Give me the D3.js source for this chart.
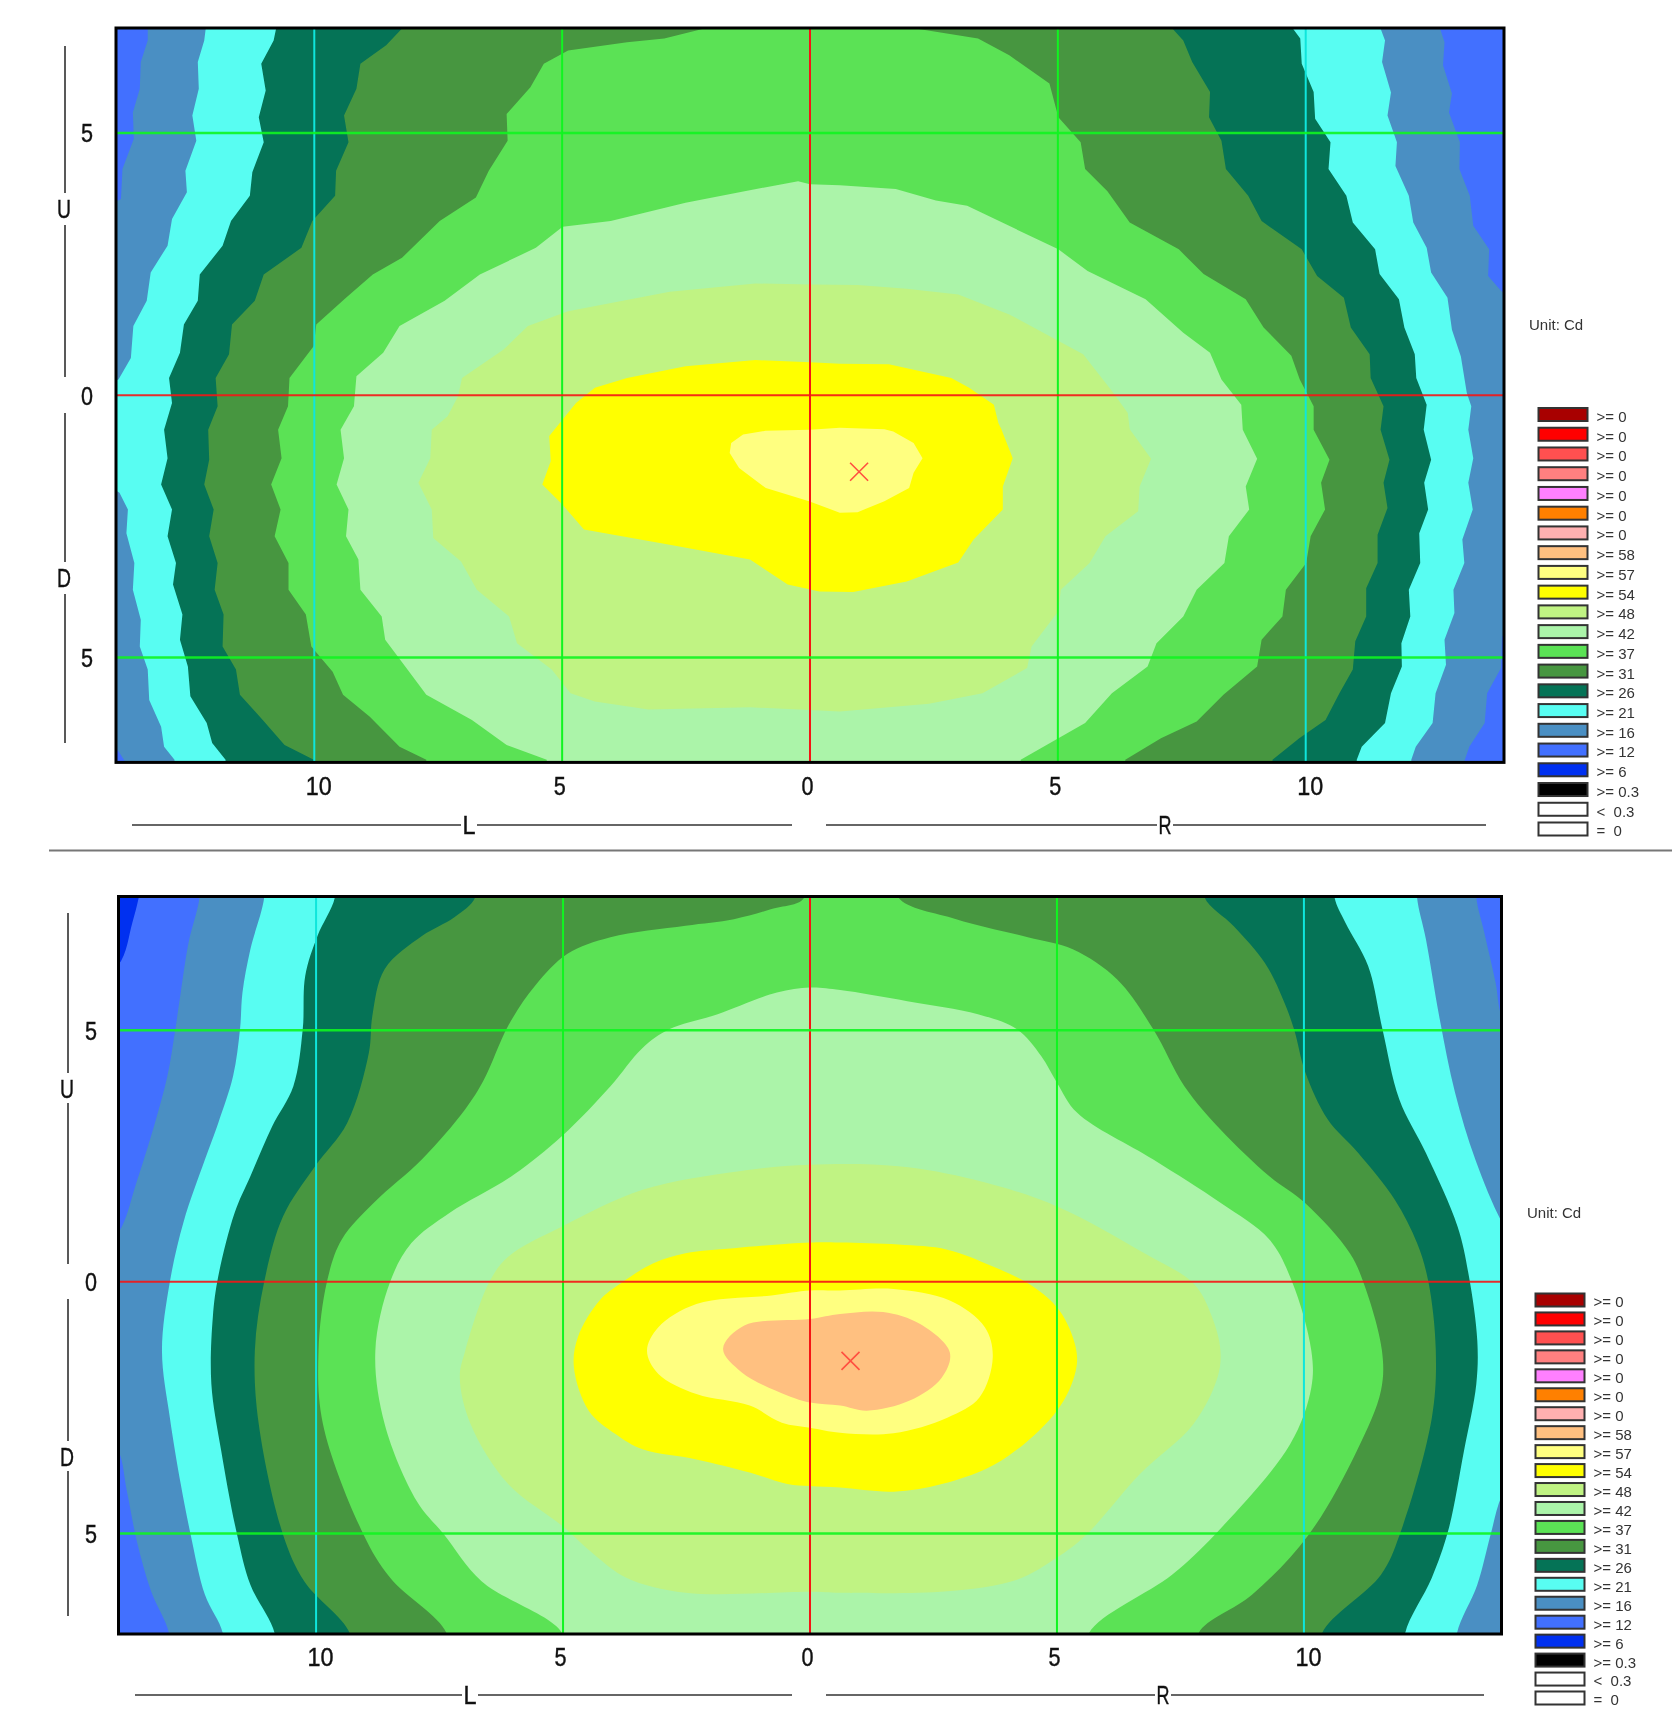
<!DOCTYPE html>
<html>
<head>
<meta charset="utf-8">
<script src="https://cdn.jsdelivr.net/npm/d3@7"></script>
<style>
  body { margin: 0; background: #fff; }
  svg { display: block; }
  .big { font-family: "Liberation Sans", Arial, sans-serif; font-size: 25px; fill: #111; stroke: #111; stroke-width: 0.4px; filter: blur(0.3px); }
  .small { font-family: "Liberation Sans", Arial, sans-serif; font-size: 15px; fill: #333; white-space: pre; filter: blur(0.3px); }
</style>
</head>
<body>
<svg width="1678" height="1714"></svg>
<script>
// Legend rows, top to bottom
const legendLabels = [">= 0", ">= 0", ">= 0", ">= 0", ">= 0", ">= 0", ">= 0", ">= 58", ">= 57", ">= 54", ">= 48",
  ">= 42", ">= 37", ">= 31", ">= 26", ">= 21", ">= 16", ">= 12", ">= 6", ">= 0.3", "<  0.3", "=  0"];
const legendColors = ["#a80000", "#ff0000", "#ff5050", "#ff8080", "#ff80ff", "#ff8000", "#ffb0b0", "#ffc080", "#ffff80", "#ffff00", "#c0f383",
  "#abf4a9", "#5be255", "#479640", "#057356", "#58fdf2", "#4a8fc3", "#4270ff", "#0030f0", "#000000", "#ffffff", "#ffffff"];
const levelColors = { 6: "#0030f0", 12: "#4270ff", 16: "#4a8fc3", 21: "#58fdf2", 26: "#057356", 31: "#479640", 37: "#5be255", 42: "#abf4a9", 48: "#c0f383", 54: "#ffff00", 57: "#ffff80", 58: "#ffc080" };

const xTicks = [-10, -5, 0, 5, 10];
const yTicks = [5, 0, -5];

// Top chart isolines, [degrees L/R, degrees U/D]
const top16Left = [[-13.36,6.99],[-13.36,6.76],[-13.5,6.35],[-13.52,5.84],[-13.66,5.39],[-13.64,4.89],[-13.87,4.31],[-13.9,3.74],[-14.2,3.6],[-14.2,-6.7],[-13.97,-6.76],[-13.82,-6.98]];
const top16Right = [[12.71,6.99],[12.8,6.73],[12.77,6.29],[12.95,5.75],[12.89,5.39],[13.11,4.82],[13.1,4.31],[13.31,3.8],[13.38,3.23],[13.7,2.78],[13.68,2.27],[13.94,1.99],[14.2,1.8],[14.2,-4.5],[13.96,-4.6],[13.94,-5.2],[13.66,-5.68],[13.61,-6.25],[13.3,-6.7],[13.2,-6.98]];
const top21Left = [[-12.19,6.99],[-12.22,6.76],[-12.35,6.35],[-12.33,5.84],[-12.46,5.33],[-12.38,4.85],[-12.6,4.28],[-12.57,3.87],[-12.87,3.36],[-12.96,2.85],[-13.3,2.34],[-13.38,1.8],[-13.65,1.32],[-13.7,0.71],[-13.95,0.3],[-14.2,0.2],[-14.2,-1.7],[-13.93,-1.86],[-13.76,-2.18],[-13.79,-2.63],[-13.63,-3.2],[-13.66,-3.71],[-13.5,-4.28],[-13.52,-4.79],[-13.36,-5.23],[-13.33,-5.81],[-13.09,-6.32],[-13.03,-6.7],[-12.82,-6.95]];
const top21Right = [[11.51,6.99],[11.6,6.76],[11.54,6.35],[11.72,5.77],[11.65,5.33],[11.84,4.82],[11.81,4.37],[12.08,3.8],[12.17,3.29],[12.44,2.81],[12.53,2.34],[12.86,1.86],[12.95,1.25],[13.13,0.74],[13.25,0.04],[13.34,-0.21],[13.28,-0.66],[13.38,-1.2],[13.28,-1.67],[13.37,-2.18],[13.16,-2.75],[13.2,-3.2],[12.98,-3.71],[13,-4.15],[12.8,-4.66],[12.83,-5.14],[12.62,-5.68],[12.56,-6.25],[12.22,-6.7],[12.13,-6.95]];
const top26Left = [[-10.77,6.99],[-10.82,6.76],[-11.07,6.32],[-10.98,5.81],[-11.12,5.3],[-11.02,4.82],[-11.25,4.25],[-11.3,3.8],[-11.68,3.32],[-11.85,2.85],[-12.31,2.3],[-12.35,1.8],[-12.63,1.35],[-12.71,0.81],[-12.93,0.33],[-12.87,-0.15],[-13.03,-0.66],[-12.96,-1.2],[-13.09,-1.7],[-12.87,-2.18],[-12.96,-2.69],[-12.79,-3.2],[-12.85,-3.61],[-12.66,-4.18],[-12.71,-4.66],[-12.55,-5.17],[-12.5,-5.74],[-12.17,-6.25],[-12.06,-6.63],[-11.79,-6.95]];
const top26Right = [[9.74,6.99],[9.89,6.8],[9.92,6.32],[10.16,5.78],[10.19,5.27],[10.5,4.82],[10.46,4.31],[10.82,3.8],[10.95,3.29],[11.4,2.78],[11.49,2.31],[11.88,1.83],[11.99,1.29],[12.2,0.78],[12.23,0.33],[12.44,-0.18],[12.38,-0.66],[12.53,-1.23],[12.39,-1.67],[12.47,-2.18],[12.29,-2.63],[12.31,-3.2],[12.08,-3.71],[12.11,-4.22],[11.93,-4.73],[11.94,-5.17],[11.72,-5.68],[11.6,-6.25],[11.13,-6.7],[11.03,-6.95]];
const top31Left = [[-8.23,6.99],[-8.55,6.67],[-9.07,6.32],[-9.15,5.84],[-9.4,5.33],[-9.31,4.82],[-9.56,4.28],[-9.58,3.8],[-10.04,3.32],[-10.26,2.81],[-11.02,2.3],[-11.2,1.8],[-11.66,1.35],[-11.72,0.78],[-11.99,0.33],[-11.95,-0.21],[-12.14,-0.66],[-12.12,-1.23],[-12.22,-1.7],[-12.03,-2.18],[-12.12,-2.69],[-11.95,-3.2],[-12.01,-3.71],[-11.83,-4.18],[-11.85,-4.79],[-11.58,-5.23],[-11.5,-5.71],[-11.04,-6.19],[-10.6,-6.67],[-10.01,-6.95]];
const top31Right = [[7.31,6.99],[7.53,6.76],[7.71,6.35],[8.07,5.78],[8.05,5.3],[8.3,4.85],[8.39,4.31],[8.84,3.8],[9.11,3.32],[9.92,2.78],[10.23,2.27],[10.77,1.86],[10.91,1.29],[11.29,0.78],[11.31,0.33],[11.57,-0.21],[11.51,-0.66],[11.69,-1.23],[11.57,-1.67],[11.65,-2.15],[11.45,-2.66],[11.45,-3.2],[11.22,-3.68],[11.22,-4.22],[11,-4.69],[10.95,-5.23],[10.68,-5.68],[10.4,-6.19],[9.87,-6.54],[9.33,-6.95]];
const top37Left = [[-2.13,6.99],[-2.94,6.8],[-3.69,6.73],[-4.88,6.57],[-5.37,6.32],[-5.64,5.87],[-6.12,5.36],[-6.1,4.85],[-6.48,4.28],[-6.74,3.77],[-7.47,3.32],[-8.23,2.62],[-8.82,2.3],[-9.36,1.86],[-9.96,1.35],[-10.01,0.94],[-10.5,0.33],[-10.53,-0.21],[-10.73,-0.66],[-10.66,-1.2],[-10.87,-1.7],[-10.68,-2.18],[-10.8,-2.69],[-10.52,-3.2],[-10.52,-3.71],[-10.17,-4.18],[-10.06,-4.79],[-9.63,-5.27],[-9.42,-5.71],[-8.88,-6.13],[-8.28,-6.7],[-7.74,-6.95]];
const top37Right = [[2.13,6.99],[3.39,6.8],[4.02,6.48],[4.83,5.94],[5.01,5.3],[5.46,4.82],[5.55,4.31],[6,3.89],[6.45,3.29],[7.44,2.78],[7.94,2.31],[8.79,1.83],[9.15,1.29],[9.71,0.75],[9.88,0.3],[10.16,-0.21],[10.16,-0.66],[10.48,-1.23],[10.31,-1.67],[10.39,-2.18],[10.1,-2.69],[10.01,-3.2],[9.6,-3.71],[9.53,-4.22],[9.11,-4.66],[9.02,-5.17],[8.34,-5.71],[7.8,-6.22],[7.08,-6.54],[6.36,-6.95]];
const top42Left = [[0,4.02],[-0.24,4.08],[-1.32,3.89],[-2.51,3.67],[-4.02,3.32],[-4.99,3.21],[-5.53,2.81],[-6.66,2.3],[-7.37,1.8],[-8.28,1.32],[-8.61,0.81],[-9.15,0.36],[-9.2,-0.21],[-9.47,-0.66],[-9.4,-1.2],[-9.55,-1.7],[-9.31,-2.18],[-9.36,-2.69],[-9.11,-3.13],[-9.07,-3.71],[-8.64,-4.22],[-8.57,-4.66],[-8.12,-5.23],[-7.74,-5.71],[-6.82,-6.19],[-6.12,-6.67],[-5.31,-6.95]];
const top42Right = [[0.6,4],[1.73,3.93],[2.54,3.71],[3.17,3.61],[5.01,2.78],[5.6,2.37],[6.77,1.83],[7.53,1.19],[8.07,0.81],[8.3,0.3],[8.7,-0.18],[8.73,-0.66],[9.02,-1.21],[8.79,-1.74],[8.86,-2.18],[8.45,-2.69],[8.36,-3.2],[7.8,-3.71],[7.53,-4.22],[6.99,-4.73],[6.81,-5.17],[6.09,-5.68],[5.55,-6.25],[4.25,-6.95]];
const top48 = [[0,2.11],[-1.1,2.13],[-2.83,1.97],[-4.88,1.6],[-5.69,1.32],[-6.18,0.87],[-7.02,0.33],[-7.1,-0.02],[-7.31,-0.4],[-7.63,-0.66],[-7.66,-1.2],[-7.9,-1.67],[-7.63,-2.18],[-7.6,-2.72],[-7.04,-3.17],[-6.72,-3.71],[-6.07,-4.22],[-5.91,-4.73],[-5.21,-5.23],[-4.83,-5.68],[-4.34,-5.84],[-3.26,-5.99],[-1.21,-5.95],[0,-6],[0.6,-6.03],[2.4,-5.88],[3.48,-5.68],[4.38,-5.2],[4.47,-4.79],[5.01,-4.12],[5.06,-3.71],[5.64,-3.2],[5.96,-2.69],[6.62,-2.21],[6.65,-1.74],[6.88,-1.21],[6.45,-0.65],[6.41,-0.34],[6.09,0.08],[5.51,0.78],[4.02,1.54],[2.99,1.92],[1.95,2.03],[0.96,2.1]];
const top54 = [[0,0.63],[-1.1,0.67],[-2.51,0.55],[-3.69,0.33],[-4.34,0.14],[-4.72,-0.15],[-5.1,-0.59],[-5.26,-0.78],[-5.23,-1.26],[-5.4,-1.7],[-4.99,-2.09],[-4.56,-2.56],[-2.83,-2.85],[-1.21,-3.13],[-0.45,-3.61],[0.19,-3.74],[0.87,-3.75],[1.95,-3.55],[2.99,-3.19],[3.3,-2.75],[3.89,-2.18],[3.89,-1.74],[4.09,-1.2],[3.86,-0.65],[3.8,-0.53],[3.71,-0.18],[3.21,0.14],[2.85,0.33],[1.59,0.59],[0.6,0.6]];
const top57 = [[-1.59,-0.91],[-1.62,-1.1],[-1.43,-1.39],[-0.89,-1.77],[-0.02,-2.02],[0.6,-2.24],[0.96,-2.23],[1.5,-2.02],[2,-1.77],[2.09,-1.48],[2.27,-1.2],[2.09,-0.91],[1.68,-0.69],[1.5,-0.65],[0.6,-0.62],[0,-0.66],[-0.9,-0.68],[-1.35,-0.75]];
const topPeak = [0.99, -1.46];

// Bottom chart isolines
const bottom12 = [[-13.59,7.64],[-13.4,8.6],[15,8.6],[15,-8],[-15,-8],[-15,5.8],[-14.02,6.28],[-13.72,7.14]];
const bottom16Left = [[-12.36,7.64],[-12.58,6.75],[-12.74,5.75],[-12.85,5.02],[-13.01,4.09],[-13.28,3.1],[-13.66,1.9],[-13.93,1.1],[-14.4,0.4],[-14.4,-3],[-14.02,-3.33],[-13.83,-4.16],[-13.63,-5.15],[-13.34,-6.15],[-12.98,-6.98]];
const bottom16Right = [[13.49,7.64],[13.65,6.95],[13.88,5.95],[14,5.29],[14.4,4.6],[14.8,-8]];
const bottom21Left = [[-11.05,7.64],[-11.33,6.61],[-11.49,5.75],[-11.54,5.02],[-11.68,4.09],[-11.98,3.16],[-12.25,2.43],[-12.68,1.2],[-12.96,0],[-13.12,-1.37],[-12.96,-2.7],[-12.74,-4.02],[-12.54,-5.02],[-12.25,-6.22],[-11.89,-6.98]];
const bottom21Right = [[12.29,7.64],[12.47,6.81],[12.75,5.22],[13.06,3.76],[13.47,2.43],[14,1.2],[14.4,0.6],[14.4,-3.6],[14,-4.26],[13.78,-5.02],[13.51,-6.02],[13.1,-6.98]];
const bottom26Left = [[-9.62,7.64],[-9.97,6.88],[-10.22,6.08],[-10.27,5.02],[-10.46,3.89],[-10.89,3.09],[-11.33,2.1],[-11.65,1.37],[-11.98,0.11],[-12.09,-0.7],[-12.12,-2.03],[-11.92,-3.36],[-11.6,-5.02],[-11.33,-6.02],[-10.84,-6.98]];
const bottom26Right = [[10.62,7.64],[10.84,7.14],[11.3,6.28],[11.59,5.02],[11.93,3.63],[12.47,2.56],[13.11,1.1],[13.34,0.11],[13.51,-1.17],[13.49,-2.03],[13.24,-3.36],[12.92,-4.95],[12.59,-5.88],[12.05,-6.98]];
const bottom31Left = [[-6.78,7.64],[-7.2,7.25],[-7.85,6.88],[-8.61,6.22],[-8.86,5.29],[-8.93,4.56],[-9.37,3.16],[-10.02,2.3],[-10.67,1.3],[-11.05,0],[-11.24,-1.37],[-11.16,-2.83],[-10.67,-5.02],[-10.24,-5.95],[-9.32,-6.98]];
const bottom31Right = [[7.99,7.64],[8.58,7.07],[9.21,6.34],[9.58,5.61],[9.8,5.02],[10.03,4.16],[10.48,3.23],[11.1,2.56],[11.84,1.63],[12.29,0.77],[12.52,0],[12.67,-1.37],[12.59,-2.7],[11.94,-5.02],[11.56,-5.82],[10.37,-6.98]];
const bottom37Left = [[-0.13,7.62],[-0.78,7.41],[-1.54,7.21],[-2.52,7.08],[-4.04,6.85],[-4.91,6.52],[-5.57,5.88],[-6.11,5.09],[-6.6,4.02],[-6.98,3.43],[-7.85,2.44],[-8.83,1.57],[-9.48,0.84],[-9.78,0],[-9.95,-1.37],[-9.86,-2.83],[-9.04,-5.02],[-8.5,-5.88],[-7.36,-6.98]];
const bottom37Right = [[1.79,7.64],[2.96,7.21],[4.41,6.85],[5.32,6.61],[6.22,6.01],[6.95,5.02],[7.58,3.89],[8.31,3.03],[9.3,2.1],[10.03,1.56],[10.93,0.57],[11.2,0],[11.58,-1.37],[11.56,-2.16],[11.07,-3.36],[10.1,-5.02],[8.96,-6.21],[7.87,-6.98]];
const bottom42Left = [[0,5.85],[-0.67,5.75],[-1.87,5.32],[-2.85,5.02],[-3.39,4.65],[-4.04,3.89],[-5.02,2.9],[-6,2.13],[-7.3,1.37],[-8.07,0.77],[-8.5,0],[-8.8,-1.37],[-8.61,-2.83],[-7.96,-4.36],[-7.41,-5.02],[-6.65,-5.95],[-5.02,-6.98]];
const bottom42Right = [[0.61,5.8],[1.97,5.58],[3.4,5.32],[4.19,5.02],[4.68,4.49],[5,3.96],[5.41,3.36],[6.95,2.43],[8.31,1.57],[9.3,0.84],[9.76,0],[10.15,-1.37],[10.15,-2.1],[9.72,-3.23],[8.2,-5.02],[7.33,-5.82],[5.65,-6.98]];
const bottom48 = [[0,2.33],[-1.43,2.2],[-3.39,1.83],[-5.02,1.1],[-6.11,0.5],[-6.49,0],[-6.98,-1.37],[-7.09,-1.9],[-6.87,-2.83],[-6.11,-4.02],[-5.02,-4.85],[-4.37,-5.42],[-3.72,-5.88],[-2.52,-6.18],[0,-6.16],[0.61,-6.18],[2.78,-6.15],[4.19,-5.92],[5,-5.48],[5.6,-5.02],[6.68,-3.82],[7.76,-2.83],[8.25,-1.9],[8.31,-1.37],[8.14,-0.7],[7.77,-0.04],[6.77,0.57],[5,1.5],[3.33,2.03],[1.79,2.3]];
const bottom54 = [[0,0.78],[-1.54,0.67],[-2.52,0.57],[-3.17,0.37],[-3.83,-0.03],[-4.26,-0.37],[-4.7,-1.1],[-4.78,-1.7],[-4.48,-2.56],[-3.93,-3.03],[-3.39,-3.33],[-2.3,-3.53],[-1.22,-3.79],[-0.46,-4.02],[0,-4.06],[0.61,-4.09],[1.69,-4.17],[2.67,-4.02],[3.86,-3.56],[5,-2.56],[5.38,-1.77],[5.38,-1.3],[5.05,-0.57],[4.5,-0.08],[3.69,0.31],[2.78,0.64],[1.79,0.74],[0.61,0.78]];
const bottom57 = [[0,-0.17],[-0.78,-0.27],[-2.3,-0.44],[-3.07,-0.9],[-3.3,-1.37],[-3.07,-1.83],[-2.3,-2.23],[-1.22,-2.46],[-0.57,-2.8],[0,-2.9],[0.61,-3],[1.69,-3.01],[2.78,-2.7],[3.43,-2.3],[3.7,-1.5],[3.54,-0.9],[2.83,-0.37],[1.69,-0.14],[0.61,-0.17]];
const bottom58 = [[0,-0.74],[-1.33,-0.87],[-1.76,-1.33],[-1.38,-1.8],[-0.46,-2.26],[0,-2.4],[0.61,-2.46],[1.15,-2.56],[2.02,-2.36],[2.67,-1.9],[2.83,-1.4],[2.23,-0.84],[1.48,-0.6],[0.61,-0.64]];
const bottomPeak = [0.82, -1.57];

const svg = d3.select("svg");

// Squeeze the big labels sideways, the original face is a narrow one
const squeeze = s => String(s).length > 1 ? 26 : 12;

// Join a left and right isoline into one closed shape, running past the frame where it leaves it
function band(left, right, yDomain) {
  const pts = [];
  if (left[0][1] > yDomain[0] - 0.8) pts.push([left[0][0], yDomain[0] + 0.6]);
  pts.push(...left);
  pts.push([left[left.length - 1][0], yDomain[1] - 0.6]);
  pts.push([right[right.length - 1][0], yDomain[1] - 0.6]);
  pts.push(...right.slice().reverse());
  if (right[0][1] > yDomain[0] - 0.8) pts.push([right[0][0], yDomain[0] + 0.6]);
  return pts;
}

function drawChart(c) {
  const x = d3.scaleLinear().domain([-14, 14]).range(c.xRange);
  const y = d3.scaleLinear().domain(c.yDomain).range(c.yRange);
  const g = svg.append("g");

  g.append("clipPath").attr("id", c.id).append("rect")
    .attr("x", c.xRange[0]).attr("y", c.yRange[0])
    .attr("width", c.xRange[1] - c.xRange[0]).attr("height", c.yRange[1] - c.yRange[0]);

  const plot = g.append("g").attr("clip-path", `url(#${c.id})`);
  plot.append("rect")
    .attr("x", c.xRange[0]).attr("y", c.yRange[0])
    .attr("width", c.xRange[1] - c.xRange[0]).attr("height", c.yRange[1] - c.yRange[0])
    .attr("fill", levelColors[c.background]);

  const line = d3.line().x(d => x(d[0])).y(d => y(d[1])).curve(c.curve);
  plot.selectAll("path.level")
    .data(c.levels)
    .enter()
    .append("path")
    .attr("class", "level")
    .attr("d", d => line(d.pts))
    .attr("fill", d => levelColors[d.level]);

  // Grid lines
  const gridColor = v => v === 0 ? "#f51515" : Math.abs(v) === 5 ? "#10f520" : "#0fe6dc";
  plot.selectAll("line.v").data(xTicks).enter().append("line")
    .attr("x1", d => x(d)).attr("x2", d => x(d))
    .attr("y1", c.yRange[0]).attr("y2", c.yRange[1])
    .attr("stroke", gridColor).attr("stroke-width", 2);
  plot.selectAll("line.h").data(yTicks).enter().append("line")
    .attr("x1", c.xRange[0]).attr("x2", c.xRange[1])
    .attr("y1", d => y(d)).attr("y2", d => y(d))
    .attr("stroke", gridColor).attr("stroke-width", d => d === 0 ? 2 : 2.5).attr("stroke-opacity", 0.9);

  // Peak marker
  g.append("path")
    .attr("transform", `translate(${x(c.peak[0])},${y(c.peak[1])})`)
    .attr("d", "M-9,-9L9,9M-9,9L9,-9")
    .attr("fill", "none").attr("stroke", "#ff5040").attr("stroke-width", 1.6);

  // Frame
  g.append("rect")
    .attr("x", c.xRange[0]).attr("y", c.yRange[0])
    .attr("width", c.xRange[1] - c.xRange[0]).attr("height", c.yRange[1] - c.yRange[0])
    .attr("fill", "none").attr("stroke", "#000").attr("stroke-width", 3);

  // Tick labels through the axes, domain and tick marks dropped
  const xAxis = g.append("g").attr("transform", `translate(0,${c.xLabelY})`)
    .call(d3.axisBottom(x).tickValues(xTicks).tickFormat(Math.abs).tickSize(0).tickPadding(0));
  xAxis.select(".domain").remove();
  xAxis.selectAll("text").attr("class", "big")
    .attr("y", 0).attr("dy", "0.36em")
    .attr("dx", d => Math.abs(d) === 10 ? 4 : -3)
    .attr("textLength", d => squeeze(Math.abs(d))).attr("lengthAdjust", "spacingAndGlyphs");
  xAxis.attr("font-family", null).attr("font-size", null);

  const yAxis = g.append("g").attr("transform", `translate(${c.yLabelX},0)`)
    .call(d3.axisLeft(y).tickValues(yTicks).tickFormat(Math.abs).tickSize(0).tickPadding(0));
  yAxis.select(".domain").remove();
  yAxis.selectAll("text").attr("class", "big").attr("text-anchor", "middle").attr("x", 0).attr("dy", "0.36em")
    .attr("textLength", 12).attr("lengthAdjust", "spacingAndGlyphs");
  yAxis.attr("font-family", null).attr("font-size", null);

  // L / R rules
  c.hRules.forEach(r => {
    g.append("line").attr("x1", r[0]).attr("x2", r[1]).attr("y1", c.ruleY).attr("y2", c.ruleY)
      .attr("stroke", "#666").attr("stroke-width", 2);
  });
  c.hLetters.forEach(t => {
    g.append("rect").attr("x", t[1] - 8).attr("y", c.ruleY - 10).attr("width", 16).attr("height", 20).attr("fill", "#fff");
    g.append("text").attr("class", "big").attr("x", t[1]).attr("y", c.ruleY).attr("dy", "0.36em")
      .attr("text-anchor", "middle").attr("textLength", 13).attr("lengthAdjust", "spacingAndGlyphs").text(t[0]);
  });

  // U / D rules
  c.vRules.forEach(r => {
    g.append("line").attr("x1", c.ruleX).attr("x2", c.ruleX).attr("y1", r[0]).attr("y2", r[1])
      .attr("stroke", "#222").attr("stroke-width", 1.5);
  });
  c.vLetters.forEach(t => {
    g.append("text").attr("class", "big").attr("x", c.ruleX - 1).attr("y", t[1]).attr("dy", "0.36em")
      .attr("text-anchor", "middle").attr("textLength", 14).attr("lengthAdjust", "spacingAndGlyphs").text(t[0]);
  });

  // Legend
  g.append("text").attr("class", "small").attr("x", c.unit[0]).attr("y", c.unit[1]).attr("dy", "0.36em").text("Unit: Cd");
  const rowY = d3.scalePoint().domain(d3.range(legendLabels.length)).range(c.legendY);
  const rows = g.selectAll("g.row").data(legendLabels).enter().append("g")
    .attr("transform", (d, i) => `translate(${c.legendX},${rowY(i)})`);
  rows.append("rect").attr("x", 0).attr("y", -6.5).attr("width", 49).attr("height", 13)
    .attr("fill", (d, i) => legendColors[i]).attr("stroke", "#333").attr("stroke-width", 2);
  rows.append("text").attr("class", "small").attr("x", 58).attr("y", 2).attr("dy", "0.36em").text(d => d);
}

const topYDomain = [7, -7];
drawChart({
  id: "clip-top", xRange: [116, 1504], yDomain: topYDomain, yRange: [28, 762.4], curve: d3.curveLinearClosed,
  background: 12, peak: topPeak,
  levels: [
    { level: 16, pts: band(top16Left, top16Right, topYDomain) },
    { level: 21, pts: band(top21Left, top21Right, topYDomain) },
    { level: 26, pts: band(top26Left, top26Right, topYDomain) },
    { level: 31, pts: band(top31Left, top31Right, topYDomain) },
    { level: 37, pts: band(top37Left, top37Right, topYDomain) },
    { level: 42, pts: band(top42Left, top42Right, topYDomain) },
    { level: 48, pts: top48 }, { level: 54, pts: top54 }, { level: 57, pts: top57 }
  ],
  xLabelY: 786, yLabelX: 87, ruleY: 825, hRules: [[132, 792], [826, 1486]], hLetters: [["L", 469], ["R", 1165]],
  ruleX: 65, vRules: [[46, 193], [225, 377], [413, 562], [594, 743]], vLetters: [["U", 209], ["D", 578]],
  unit: [1529, 325], legendX: 1538.5, legendY: [414.5, 829]
});

const bottomYDomain = [7.66, -7];
drawChart({
  id: "clip-bottom", xRange: [118.5, 1501.5], yDomain: bottomYDomain, yRange: [896.5, 1634], curve: d3.curveCatmullRomClosed.alpha(0.5),
  background: 6, peak: bottomPeak,
  levels: [
    { level: 12, pts: bottom12 },
    { level: 16, pts: band(bottom16Left, bottom16Right, bottomYDomain) },
    { level: 21, pts: band(bottom21Left, bottom21Right, bottomYDomain) },
    { level: 26, pts: band(bottom26Left, bottom26Right, bottomYDomain) },
    { level: 31, pts: band(bottom31Left, bottom31Right, bottomYDomain) },
    { level: 37, pts: band(bottom37Left, bottom37Right, bottomYDomain) },
    { level: 42, pts: band(bottom42Left, bottom42Right, bottomYDomain) },
    { level: 48, pts: bottom48 }, { level: 54, pts: bottom54 }, { level: 57, pts: bottom57 }, { level: 58, pts: bottom58 }
  ],
  xLabelY: 1657, yLabelX: 91, ruleY: 1695, hRules: [[135, 792], [826, 1484]], hLetters: [["L", 470], ["R", 1163]],
  ruleX: 68, vRules: [[913, 1073], [1103, 1264], [1299, 1441], [1471, 1616]], vLetters: [["U", 1089], ["D", 1457]],
  unit: [1527, 1213], legendX: 1535.5, legendY: [1300, 1698]
});

// Divider between the two charts
svg.append("line").attr("x1", 49).attr("x2", 1672).attr("y1", 850.5).attr("y2", 850.5)
  .attr("stroke", "#777").attr("stroke-width", 2);
</script>
</body>
</html>
